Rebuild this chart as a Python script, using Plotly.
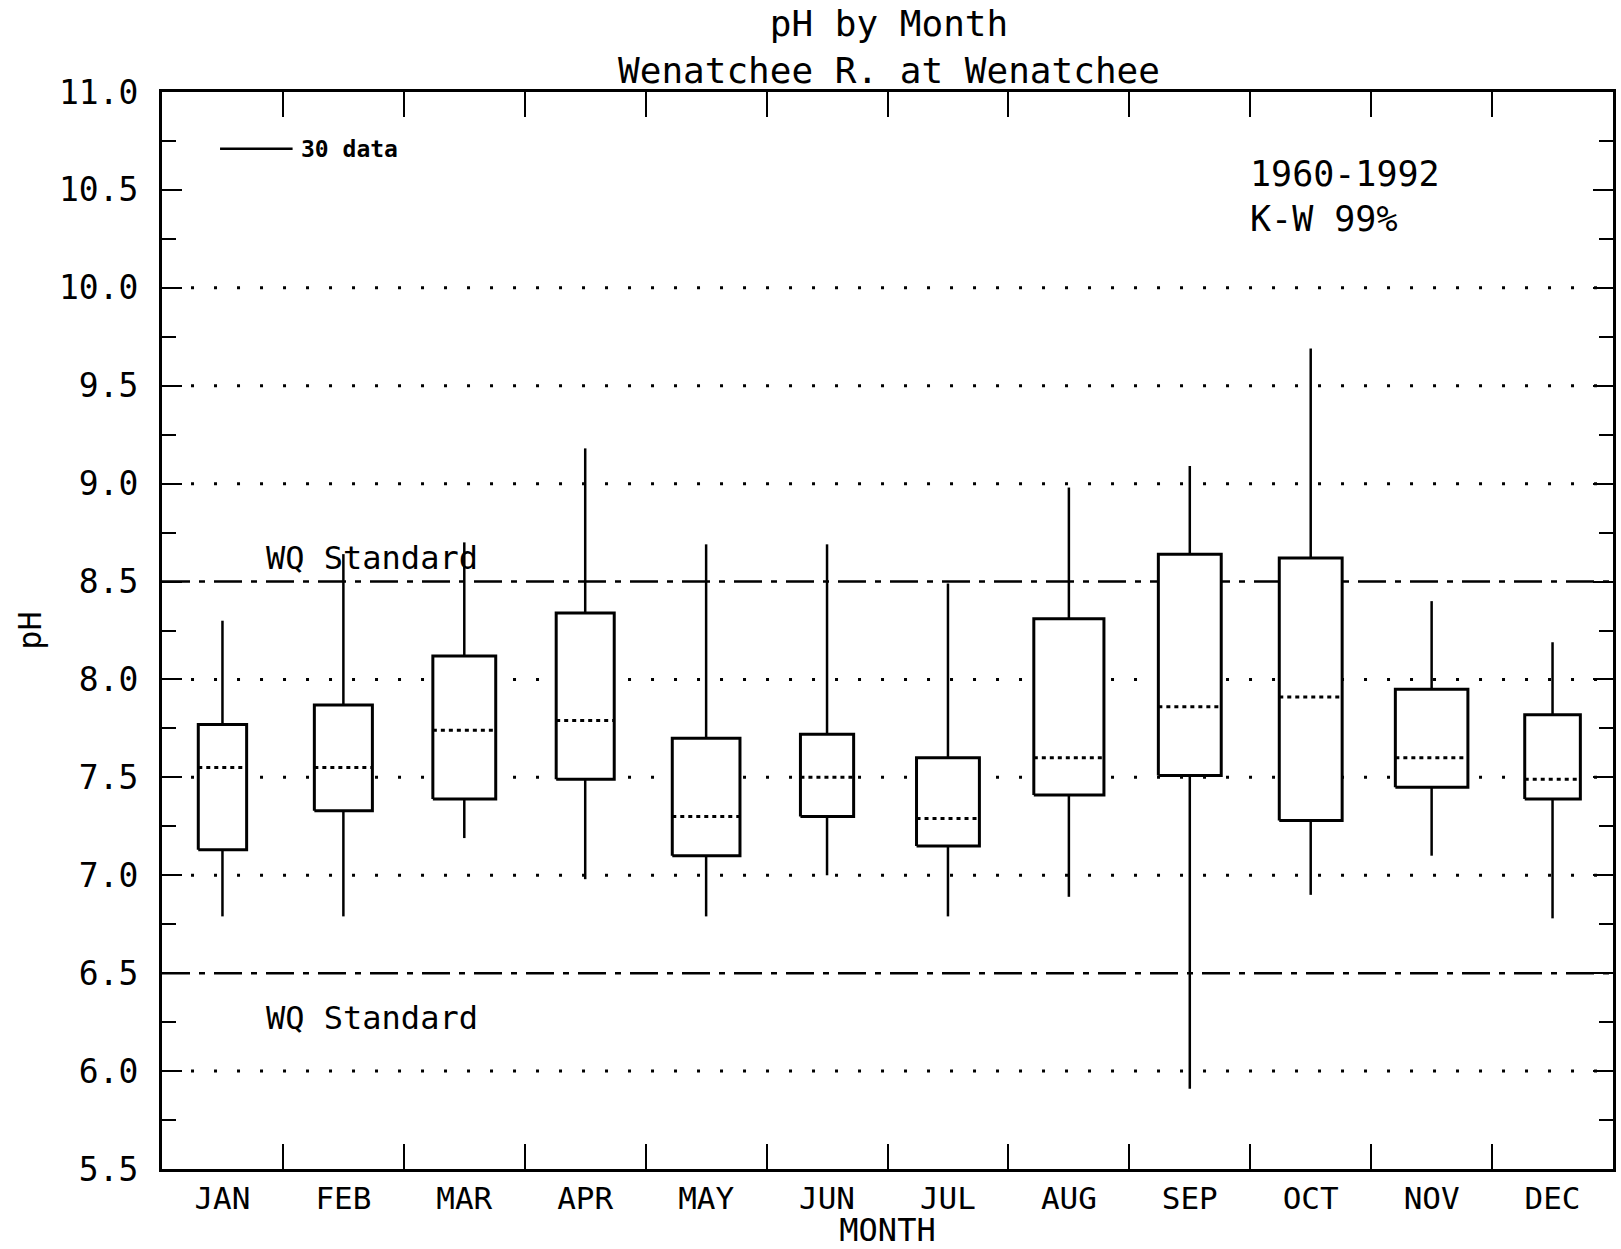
import plotly.graph_objects as go

# ---------------- data ----------------
months = ["JAN", "FEB", "MAR", "APR", "MAY", "JUN", "JUL", "AUG", "SEP", "OCT", "NOV", "DEC"]
whisker_low = [6.79, 6.79, 7.19, 6.98, 6.79, 7.00, 6.79, 6.89, 5.91, 6.90, 7.10, 6.78]
q1 = [7.13, 7.33, 7.39, 7.49, 7.10, 7.30, 7.15, 7.41, 7.51, 7.28, 7.45, 7.39]
median = [7.55, 7.55, 7.74, 7.79, 7.30, 7.50, 7.29, 7.60, 7.86, 7.91, 7.60, 7.49]
q3 = [7.77, 7.87, 8.12, 8.34, 7.70, 7.72, 7.60, 8.31, 8.64, 8.62, 7.95, 7.82]
whisker_high = [8.30, 8.64, 8.70, 9.18, 8.69, 8.69, 8.49, 8.98, 9.09, 9.69, 8.40, 8.19]
n_obs = [20, 24, 26, 24, 28, 22, 26, 29, 26, 26, 30, 23]   # box width ~ sample size

standard_levels = [8.5, 6.5]
standard_label = "WQ Standard"
grid_levels = [6.0, 7.0, 7.5, 8.0, 9.0, 9.5, 10.0]
ref_n = 30
ref_label = "30 data"
period_text = "1960-1992"
test_text = "K-W 99%"
title_lines = ["pH by Month", "Wenatchee R. at Wenatchee"]
y_ticks = [5.5, 6.0, 6.5, 7.0, 7.5, 8.0, 8.5, 9.0, 9.5, 10.0, 10.5, 11.0]

# ---------------- styling ----------------
FONT = "DejaVu Sans Mono"
REF_WIDTH = 0.60          # width (x-units) of the box for ref_n observations
xs = list(range(1, len(months) + 1))

box_x, box_y = [], []
wh_x, wh_y = [], []
med_x, med_y = [], []
for i, x in enumerate(xs):
    hw = REF_WIDTH * n_obs[i] / ref_n / 2
    box_x += [x - hw, x + hw, x + hw, x - hw, x - hw, None]
    box_y += [q1[i], q1[i], q3[i], q3[i], q1[i], None]
    wh_x += [x, x, None, x, x, None]
    wh_y += [whisker_low[i], q1[i], None, q3[i], whisker_high[i], None]
    med_x += [x - hw, x + hw, None]
    med_y += [median[i], median[i], None]

fig = go.Figure()
fig.add_trace(go.Scatter(x=wh_x, y=wh_y, mode="lines",
                         line=dict(color="black", width=2.5), hoverinfo="skip"))
fig.add_trace(go.Scatter(x=box_x, y=box_y, mode="lines", fill="toself",
                         fillcolor="white", line=dict(color="black", width=3),
                         hoverinfo="skip"))
fig.add_trace(go.Scatter(x=med_x, y=med_y, mode="lines",
                         line=dict(color="black", width=3, dash="4px,4px"),
                         hoverinfo="skip"))

shapes = []
for g in grid_levels:
    shapes.append(dict(type="line", xref="paper", yref="y", x0=0.02, x1=1, y0=g, y1=g,
                       line=dict(color="black", width=3, dash="3px,20px"), layer="below"))
for s in standard_levels:
    shapes.append(dict(type="line", xref="paper", yref="y", x0=0, x1=1, y0=s, y1=s,
                       line=dict(color="black", width=2.5, dash="28px,9px,6px,9px"),
                       layer="below"))
# reference width line for the legend
shapes.append(dict(type="line", xref="x", yref="y", x0=0.98, x1=0.98 + REF_WIDTH,
                   y0=10.71, y1=10.71, line=dict(color="black", width=2.5)))

annotations = [
    dict(xref="x", yref="y", x=0.98 + REF_WIDTH + 0.05, y=10.71, text="<b>" + ref_label + "</b>",
         xanchor="left", showarrow=False, font=dict(family=FONT, size=23, color="black")),
    dict(xref="x", yref="y", x=9.48, y=10.58, text=period_text, xanchor="left",
         showarrow=False, font=dict(family=FONT, size=35, color="black")),
    dict(xref="x", yref="y", x=9.48, y=10.35, text=test_text, xanchor="left",
         showarrow=False, font=dict(family=FONT, size=35, color="black")),
    dict(xref="x", yref="y", x=1.34, y=8.62, text=standard_label, xanchor="left",
         showarrow=False, font=dict(family=FONT, size=32, color="black")),
    dict(xref="x", yref="y", x=1.34, y=6.27, text=standard_label, xanchor="left",
         showarrow=False, font=dict(family=FONT, size=32, color="black")),
]

fig.update_layout(
    width=1621, height=1249,
    margin=dict(l=162, r=5, t=92, b=80),
    paper_bgcolor="white", plot_bgcolor="white",
    showlegend=False,
    title=dict(text="<br>".join(title_lines), x=(162 + 1616) / 2 / 1621, xanchor="center",
               xref="container", yref="container", y=1 - 36 / 1249, yanchor="middle",
               font=dict(family=FONT, size=36, color="black")),
    shapes=shapes, annotations=annotations,
    font=dict(family=FONT, color="black"),
)
fig.update_xaxes(
    range=[0.5, len(months) + 0.5], tickmode="array", tickvals=xs, ticktext=months,
    ticks="", showgrid=False, zeroline=False,
    showline=True, linecolor="black", linewidth=3, mirror="ticks",
    minor=dict(tickmode="array", tickvals=[x + 0.5 for x in xs[:-1]], ticks="inside",
               ticklen=25, tickwidth=2, tickcolor="black", showgrid=False),
    tickfont=dict(family=FONT, size=31, color="black"),
    title=dict(text="MONTH", font=dict(family=FONT, size=32, color="black"), standoff=4),
)
fig.update_yaxes(
    range=[5.5, 11.0], tickmode="array", tickvals=y_ticks,
    ticktext=[f"{v:.1f}" for v in y_ticks],
    ticks="inside", ticklen=20, tickwidth=2, tickcolor="black",
    showgrid=False, zeroline=False,
    showline=True, linecolor="black", linewidth=3, mirror="ticks",
    minor=dict(dtick=0.25, tick0=5.5, ticks="inside", ticklen=14, tickwidth=2,
               tickcolor="black", showgrid=False),
    tickfont=dict(family=FONT, size=33, color="black"),
    ticklabelstandoff=14,
    title=dict(text="pH", font=dict(family=FONT, size=32, color="black"), standoff=8),
)

fig.write_html("out.html")
